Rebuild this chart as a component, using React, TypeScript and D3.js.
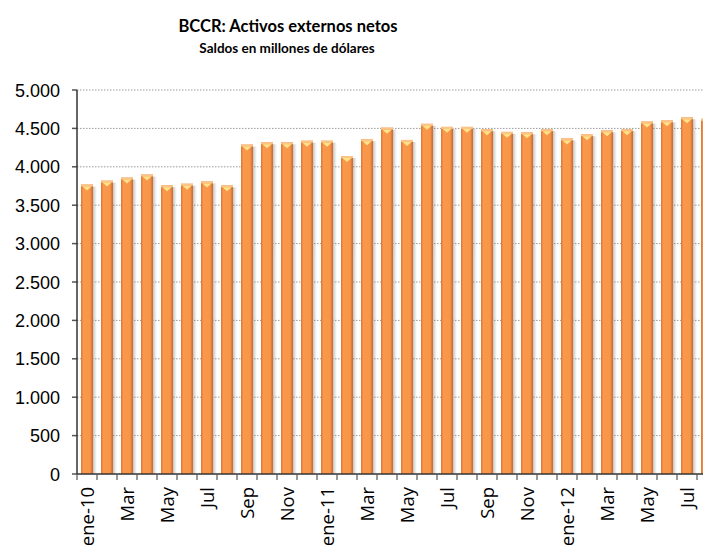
import React from "react";
import * as d3 from "d3";

const months = ["ene","feb","mar","abr","may","jun","jul","ago","sep","oct","nov","dic"];
const tickNames = ["ene","Feb","Mar","Abr","May","Jun","Jul","Ago","Sep","Oct","Nov","Dic"];
const years = ["10","11","12"];
const categories: string[] = [];
for (let y = 0; y < 3; y++) for (let m = 0; m < 12; m++) if (categories.length < 32) categories.push(`${months[m]}-${years[y]}`);

const values = [
  3770, 3820, 3860, 3900, 3760, 3780, 3810, 3760,
  4290, 4320, 4320, 4340, 4340, 4140, 4360, 4510,
  4350, 4560, 4520, 4520, 4490, 4455, 4450, 4490,
  4370, 4425, 4475, 4490, 4590, 4605, 4645, 4625,
];
const yTicks = [0, 500, 1000, 1500, 2000, 2500, 3000, 3500, 4000, 4500, 5000];

const W = 703, H = 545;
const left = 77, top = 90, bottom = 474;
const band = 20;

export default function App() {
  const x = d3.scaleBand<string>().domain(categories).range([left, left + band * categories.length]).paddingInner(0.4).paddingOuter(0.2);
  const y = d3.scaleLinear().domain([0, 5000]).range([bottom, top]);
  const fmt = (v: number) => d3.format(",")(v).replace(/,/g, ".");
  const label = (c: string, i: number) => {
    const m = i % 12;
    if (m === 0) return c;
    return tickNames[m];
  };
  const bw = x.bandwidth();
  return (
    <svg width={W} height={H} style={{ position: "absolute", left: 0, top: 0, background: "#fff" }}>
      <defs>
        <linearGradient id="barG" x1="0" x2="1" y1="0" y2="0">
          <stop offset="0" stopColor="#DD7630" />
          <stop offset="0.2" stopColor="#F9984D" />
          <stop offset="0.75" stopColor="#F89548" />
          <stop offset="1" stopColor="#C9682A" />
        </linearGradient>
        <linearGradient id="shadowG" x1="0" x2="1" y1="0" y2="0">
          <stop offset="0" stopColor="#777" stopOpacity="0.45" />
          <stop offset="1" stopColor="#999" stopOpacity="0" />
        </linearGradient>
      </defs>
      <text x={288} y={32} textAnchor="middle" fontFamily="Lato" fontWeight="bold" fontSize={16.5} fill="#000">BCCR: Activos externos netos</text>
      <text x={287} y={53} textAnchor="middle" fontFamily="Lato" fontWeight="bold" fontSize={13.5} fill="#000">Saldos en millones de dólares</text>
      {yTicks.map((t) => (
        <g key={t}>
          {t > 0 && <line x1={left} x2={W} y1={y(t)} y2={y(t)} stroke="#9a9a9a" strokeWidth={1} strokeDasharray="1.5,1.5" />}
          <line x1={left - 5} x2={left} y1={y(t)} y2={y(t)} stroke="#555" strokeWidth={1.5} />
          <text x={60} y={y(t) + 6.5} textAnchor="end" fontFamily="Liberation Sans" fontSize={18} fill="#000">{fmt(t)}</text>
        </g>
      ))}
      {categories.map((c, i) => {
        const bx = x(c)!;
        const by = y(values[i]);
        const h = bottom - by;
        return (
          <g key={c}>
            <rect x={bx + bw} y={by + 2} width={4} height={h - 2} fill="url(#shadowG)" />
            <rect x={bx} y={by} width={bw} height={h} fill="url(#barG)" />
            <rect x={bx} y={by} width={bw} height={2} fill="#FBC58A" />
            <path d={`M${bx + 1.5},${by + 2} L${bx + bw - 1.5},${by + 2} L${bx + bw / 2},${by + 6} Z`} fill="#FFE38A" />
          </g>
        );
      })}
      <line x1={left} x2={left} y1={top} y2={bottom} stroke="#333" strokeWidth={1.5} />
      <line x1={left} x2={W} y1={bottom} y2={bottom} stroke="#333" strokeWidth={1.5} />
      {categories.map((c, i) => (
        <line key={"t" + c} x1={left + band * i} x2={left + band * i} y1={bottom} y2={bottom + 6} stroke="#555" strokeWidth={1.2} />
      ))}
      {categories.map((c, i) =>
        i % 2 === 0 ? (
          <text key={"l" + c} transform={`translate(${x(c)! + bw / 2 + 6.5},${487}) rotate(-90)`} textAnchor="end" fontFamily="Open Sans" fontSize={18.5} fill="#000">
            {label(c, i)}
          </text>
        ) : null
      )}
    </svg>
  );
}
